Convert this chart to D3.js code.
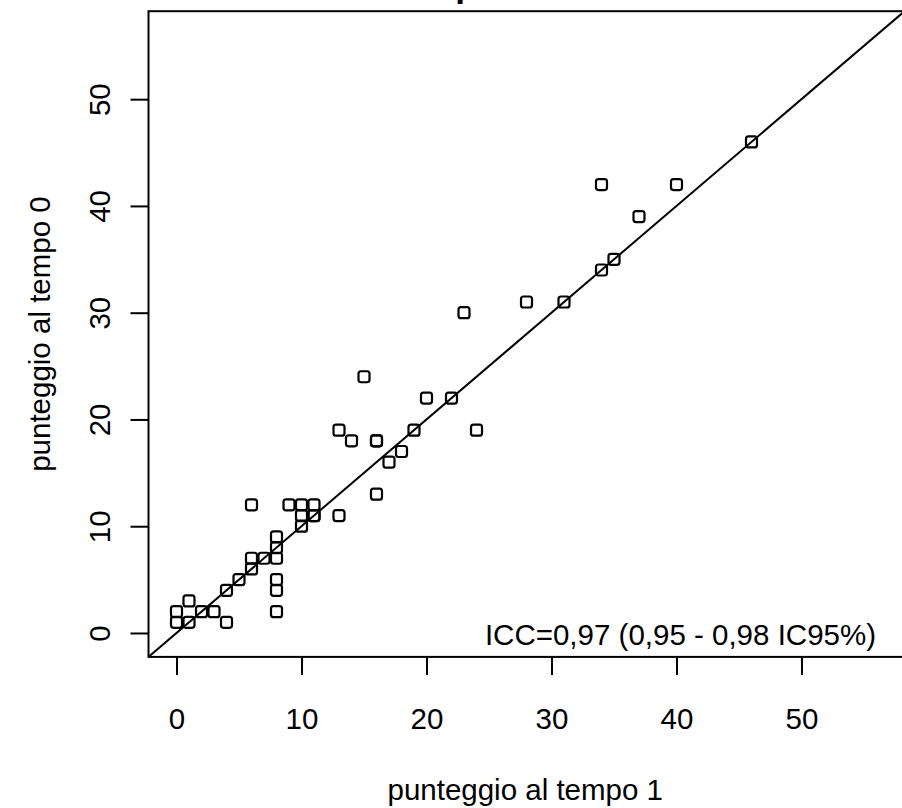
<!DOCTYPE html>
<html>
<head>
<meta charset="utf-8">
<script src="https://cdn.jsdelivr.net/npm/d3@7"></script>
<style>
  html, body { margin: 0; padding: 0; background: #fff; }
  svg text { font-family: "Liberation Sans", Arial, Helvetica, sans-serif; fill: #000; }
</style>
</head>
<body>
<div class="chart"></div>
<script>
// test-retest scatter: score at time 1 (x) vs score at time 0 (y)

var tempo1 = [0, 0, 1, 1, 2, 3, 4, 4, 5, 6, 6, 6, 7, 8, 8, 8, 8, 8, 8, 9,
  10, 10, 10, 11, 11, 11, 13, 13, 14, 15, 16, 16, 16, 17, 18, 19, 20, 22,
  23, 24, 28, 31, 34, 34, 35, 37, 40, 46];
var tempo0 = [1, 2, 1, 3, 2, 2, 1, 4, 5, 6, 7, 12, 7, 7, 8, 9, 5, 4, 2, 12,
  10, 11, 12, 11, 11, 12, 11, 19, 18, 24, 18, 18, 13, 16, 17, 19, 22, 22,
  30, 19, 31, 31, 34, 42, 35, 39, 42, 46];
var tickValues = [0, 10, 20, 30, 40, 50];
var axisLimits = [-2.24, 58.24];

var titleText = "Scatterplot test-retest";
var xLabel = "punteggio al tempo 1";
var yLabel = "punteggio al tempo 0";
var iccText = "ICC=0,97 (0,95 - 0,98 IC95%)";

var svgWidth = 902;
var svgHeight = 808;

// plot box (right side runs just past the picture edge)
var box = { left: 148.5, right: 904.5, top: 11.2, bottom: 656.9 };
var fontSize = 29.5;

var svg = d3.select(".chart")
  .append("svg")
  .attr("width", svgWidth)
  .attr("height", svgHeight);

var xScale = d3.scaleLinear()
  .domain(axisLimits)
  .range([box.left, box.right]);

var yScale = d3.scaleLinear()
  .domain(axisLimits)
  .range([box.bottom, box.top]);

var points = tempo1.map(function(d, i) {
  return { x: d, y: tempo0[i] };
});

// clip for the identity line
svg.append("clipPath")
  .attr("id", "plot-clip")
  .append("rect")
  .attr("x", box.left)
  .attr("y", box.top)
  .attr("width", box.right - box.left)
  .attr("height", box.bottom - box.top);

// title, mostly cut off at the top of the picture (as in the reference)
svg.append("text")
  .attr("x", (box.left + box.right) / 2 - 9)
  .attr("y", -3)
  .attr("text-anchor", "middle")
  .style("font-size", "35px")
  .style("font-weight", "bold")
  .text(titleText);

// axes
var bottomAxis = d3.axisBottom(xScale)
  .tickValues(tickValues)
  .tickSize(18)
  .tickSizeOuter(0);

var leftAxis = d3.axisLeft(yScale)
  .tickValues(tickValues)
  .tickSize(18)
  .tickSizeOuter(0);

var xAxisG = svg.append("g")
  .attr("transform", "translate(0," + box.bottom + ")")
  .call(bottomAxis);

xAxisG.select(".domain").remove();
xAxisG.selectAll("line").attr("stroke", "#000").attr("stroke-width", 2);
xAxisG.selectAll("text")
  .attr("y", 72)
  .attr("dy", null)
  .style("font-size", fontSize + "px")
  .style("font-family", null);

var yAxisG = svg.append("g")
  .attr("transform", "translate(" + box.left + ",0)")
  .call(leftAxis);

yAxisG.select(".domain").remove();
yAxisG.selectAll("line").attr("stroke", "#000").attr("stroke-width", 2);
yAxisG.selectAll("text")
  .attr("x", null)
  .attr("dy", null)
  .attr("text-anchor", "middle")
  .attr("transform", "translate(-38.5,0) rotate(-90)")
  .style("font-size", fontSize + "px")
  .style("font-family", null);

// identity line y = x
svg.append("line")
  .attr("clip-path", "url(#plot-clip)")
  .attr("x1", xScale(axisLimits[0]))
  .attr("y1", yScale(axisLimits[0]))
  .attr("x2", xScale(axisLimits[1]))
  .attr("y2", yScale(axisLimits[1]))
  .attr("stroke", "#000")
  .attr("stroke-width", 2);

// open squares (pch = 0)
var side = 11;
svg.append("g")
  .selectAll("rect")
  .data(points)
  .enter().append("rect")
    .attr("x", function(d) { return xScale(d.x) - side / 2; })
    .attr("y", function(d) { return yScale(d.y) - side / 2; })
    .attr("width", side)
    .attr("height", side)
    .attr("rx", 2.5)
    .attr("fill", "none")
    .attr("stroke", "#000")
    .attr("stroke-width", 2.2);

// box around the plot
svg.append("rect")
  .attr("x", box.left)
  .attr("y", box.top)
  .attr("width", box.right - box.left)
  .attr("height", box.bottom - box.top)
  .attr("fill", "none")
  .attr("stroke", "#000")
  .attr("stroke-width", 2);

// ICC annotation
svg.append("text")
  .attr("x", 876)
  .attr("y", 645)
  .attr("text-anchor", "end")
  .style("font-size", fontSize + "px")
  .text(iccText);

// axis labels
svg.append("text")
  .attr("x", (box.left + 902) / 2)
  .attr("y", 800)
  .attr("text-anchor", "middle")
  .style("font-size", fontSize + "px")
  .text(xLabel);

svg.append("text")
  .attr("transform", "translate(50," + (box.top + box.bottom) / 2 + ") rotate(-90)")
  .attr("text-anchor", "middle")
  .style("font-size", fontSize + "px")
  .text(yLabel);
</script>
</body>
</html>
